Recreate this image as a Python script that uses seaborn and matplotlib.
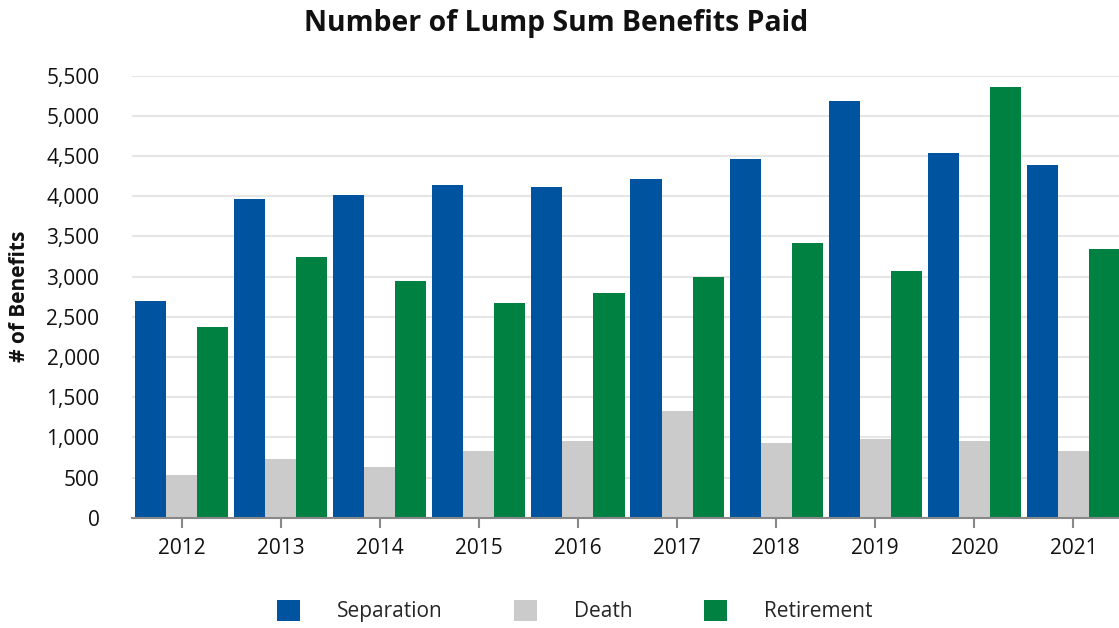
import pandas as pd
import seaborn as sns
import matplotlib.pyplot as plt
from matplotlib.patches import Patch

# ------------------------------------------------------------------------------
# Data
# ------------------------------------------------------------------------------
years = ["2012", "2013", "2014", "2015", "2016", "2017", "2018", "2019", "2020", "2021"]
separation = [2700, 3965, 4015, 4140, 4115, 4215, 4460, 5185, 4540, 4390]
death = [530, 730, 630, 830, 955, 1325, 930, 980, 955, 830]
retirement = [2375, 3245, 2945, 2670, 2795, 2995, 3415, 3070, 5360, 3345]

benefit_types = ["Separation", "Death", "Retirement"]
colors = ["#00539F", "#CBCBCB", "#008142"]
yticks = [0, 500, 1000, 1500, 2000, 2500, 3000, 3500, 4000, 4500, 5000, 5500]

df = pd.DataFrame({"Year": years, "Separation": separation,
                   "Death": death, "Retirement": retirement})
long_df = df.melt(id_vars="Year", var_name="Type", value_name="Count")

# ------------------------------------------------------------------------------
# Plot
# ------------------------------------------------------------------------------
sns.set_theme(style="white")
plt.rcParams['font.family'] = ['Open Sans', 'DejaVu Sans']

fig = plt.figure(figsize=(11.19, 6.28), dpi=100)
ax = fig.add_axes([0.118, 0.1756, 0.882, 0.7039])

sns.barplot(data=long_df, x="Year", y="Count", hue="Type", hue_order=benefit_types,
            palette=colors, width=0.94, saturation=1, linewidth=0, ax=ax,
            legend=False)

ax.set_xlim(-0.5, 9.46)
ax.set_ylim(0, 5500)
ax.set_yticks(yticks)
ax.set_yticklabels([f"{v:,}" for v in yticks], fontsize=15)
ax.tick_params(axis="y", length=0, pad=23.5)
ax.tick_params(axis="x", length=7.5, width=1.5, color="#888888", labelsize=15,
               pad=7, direction="out", bottom=True)
for lbl in ax.get_xticklabels() + ax.get_yticklabels():
    lbl.set_color("#111111")

ax.grid(axis="y", color="#E6E6E6", linewidth=1.5)
ax.set_axisbelow(True)
sns.despine(ax=ax, left=True, right=True, top=True)
ax.spines["bottom"].set_color("#888888")
ax.spines["bottom"].set_linewidth(1.5)
ax.spines["bottom"].set_zorder(5)

ax.set_xlabel("")
ax.set_ylabel("# of Benefits", fontsize=15, fontweight="bold", labelpad=11.5,
              color="#111111")

fig.suptitle("Number of Lump Sum Benefits Paid", x=0.497, y=0.986,
             fontsize=20.4, fontweight="bold", color="#111111")

handles = [Patch(facecolor=c, edgecolor="none", label=t)
           for c, t in zip(colors, benefit_types)]
fig.legend(handles=handles, loc="lower center", bbox_to_anchor=(0.5136, -0.021),
           ncol=3, frameon=False, fontsize=15, handlelength=1.1, handleheight=1.15,
           handletextpad=1.8, columnspacing=3.4)

plt.savefig("out.png", dpi=100)
plt.close()
